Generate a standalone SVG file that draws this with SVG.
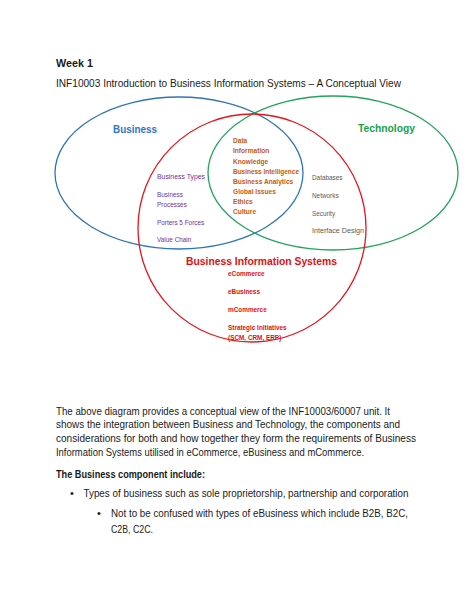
<svg xmlns="http://www.w3.org/2000/svg" width="474" height="613" viewBox="0 0 474 613">
<style>
text{font-family:"Liberation Sans",Arial,sans-serif;}
.body{font-size:11px;fill:#1a1a1a;}
.b{font-weight:bold;}
.ell{fill:none;stroke-width:1.3;}
.head{font-size:11px;font-weight:bold;}
.or{font-size:6.6px;font-weight:bold;fill:#c55a11;}
.pu{font-size:6.4px;fill:#7030a0;}
.gr{font-size:6.4px;fill:#5a5a5a;}
.rd{font-size:6.4px;font-weight:bold;fill:#e01010;}
</style>
<rect width="474" height="613" fill="#fff"/>
<g id="header">
<text class="body b" x="56" y="67" textLength="37" lengthAdjust="spacingAndGlyphs">Week 1</text>
<text class="body" x="56" y="86.5" textLength="345" lengthAdjust="spacingAndGlyphs">INF10003 Introduction to Business Information Systems – A Conceptual View</text>
</g>
<g id="business">
<ellipse class="ell" cx="179" cy="173" rx="124" ry="76" stroke="#2e75b6"/>
<text class="head" x="113" y="133" fill="#2e74c4" textLength="44" lengthAdjust="spacingAndGlyphs">Business</text>
</g>
<g id="technology">
<ellipse class="ell" cx="333" cy="173" rx="125" ry="77" stroke="#22a45a"/>
<text class="head" x="358" y="132" fill="#17a34a" textLength="57" lengthAdjust="spacingAndGlyphs">Technology</text>
</g>
<g id="bis">
<ellipse class="ell" cx="252" cy="228" rx="114" ry="114" stroke="#e8141b"/>
<text class="head" x="186" y="265" fill="#e01010" textLength="151" lengthAdjust="spacingAndGlyphs">Business Information Systems</text>
</g>
<g id="overlap-items">
<text class="or" x="233" y="143">Data</text>
<text class="or" x="233" y="153">Information</text>
<text class="or" x="233" y="163.5">Knowledge</text>
<text class="or" x="233" y="173.5" textLength="66" lengthAdjust="spacingAndGlyphs">Business Intelligence</text>
<text class="or" x="233" y="184">Business Analytics</text>
<text class="or" x="233" y="194">Global Issues</text>
<text class="or" x="233" y="204">Ethics</text>
<text class="or" x="233" y="214">Culture</text>
</g>
<g id="business-items">
<text class="pu" x="157" y="179" textLength="48" lengthAdjust="spacingAndGlyphs">Business Types</text>
<text class="pu" x="157" y="197">Business</text>
<text class="pu" x="157" y="207">Processes</text>
<text class="pu" x="157" y="225">Porters 5 Forces</text>
<text class="pu" x="157" y="242">Value Chain</text>
</g>
<g id="technology-items">
<text class="gr" x="312" y="180">Databases</text>
<text class="gr" x="312" y="198">Networks</text>
<text class="gr" x="312" y="215.5">Security</text>
<text class="gr" x="312" y="233" textLength="52" lengthAdjust="spacingAndGlyphs">Interface Design</text>
</g>
<g id="bis-items">
<text class="rd" x="228" y="276">eCommerce</text>
<text class="rd" x="228" y="294">eBusiness</text>
<text class="rd" x="228" y="312">mCommerce</text>
<text class="rd" x="228" y="330">Strategic Initiatives</text>
<text class="rd" x="228" y="340">(SCM, CRM, ERP)</text>
</g>
<g id="connectors"></g>
<g id="paragraph">
<text class="body" x="56" y="414.5" textLength="334" lengthAdjust="spacingAndGlyphs">The above diagram provides a conceptual view of the INF10003/60007 unit. It</text>
<text class="body" x="56" y="428.3" textLength="344" lengthAdjust="spacingAndGlyphs">shows the integration between Business and Technology, the components and</text>
<text class="body" x="56" y="442" textLength="360" lengthAdjust="spacingAndGlyphs">considerations for both and how together they form the requirements of Business</text>
<text class="body" x="56" y="455.8" textLength="308" lengthAdjust="spacingAndGlyphs">Information Systems utilised in eCommerce, eBusiness and mCommerce.</text>
<text class="body b" x="56" y="477.7" textLength="149" lengthAdjust="spacingAndGlyphs">The Business component include:</text>
<text class="body" x="70" y="497">•</text>
<text class="body" x="83.5" y="497" textLength="325" lengthAdjust="spacingAndGlyphs">Types of business such as sole proprietorship, partnership and corporation</text>
<text class="body" x="97" y="516.7">•</text>
<text class="body" x="111" y="516.7" textLength="297" lengthAdjust="spacingAndGlyphs">Not to be confused with types of eBusiness which include B2B, B2C,</text>
<text class="body" x="111" y="533" textLength="42" lengthAdjust="spacingAndGlyphs">C2B, C2C.</text>
</g>
</svg>
